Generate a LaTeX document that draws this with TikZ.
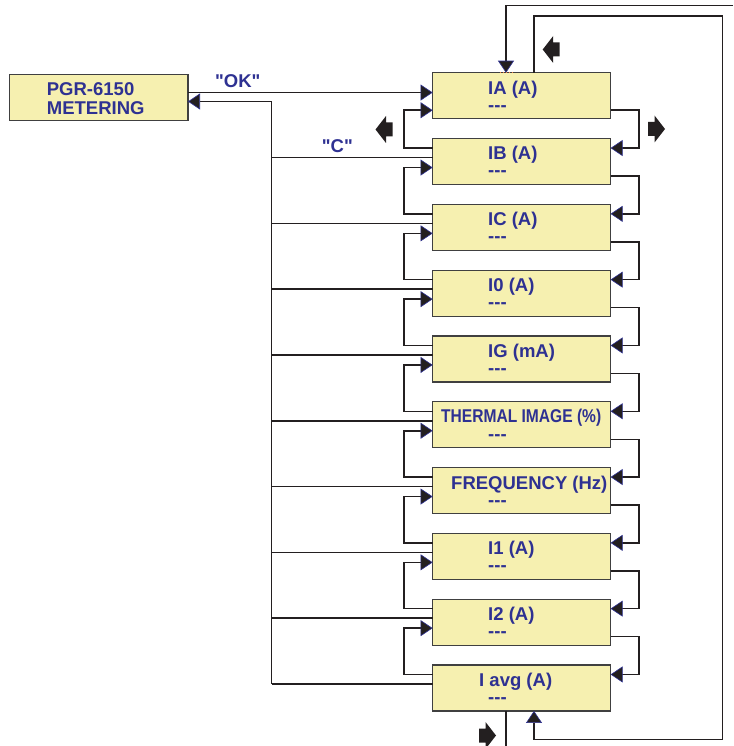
\documentclass[tikz,border=0pt]{standalone}
\usepackage{fontspec}
\setmainfont{Liberation Sans}[Ligatures=TeXOff]
\usetikzlibrary{arrows.meta,calc}
\definecolor{boxfill}{HTML}{F6F0B0}
\definecolor{navy}{HTML}{2E3192}
\definecolor{ink}{HTML}{231F20}
\definecolor{boxedge}{HTML}{404040}
\definecolor{markcol}{HTML}{F08040}
\begin{document}
\begin{tikzpicture}[x=1pt,y=-1pt,
  box/.style={draw=boxedge,fill=boxfill,line width=1.1pt,minimum width=178pt,minimum height=46pt,inner sep=0pt,outer sep=0pt},
  txt/.style={font=\bfseries\fontsize{18.5}{18.5}\selectfont,text=navy,inner sep=0pt,anchor=base west},
  wire/.style={draw=ink,line width=1.5pt},
  arr/.style={wire,-{Triangle[length=12pt,width=16pt,color=navy,fill=ink,line width=0.6pt]}},
  blockarrow/.pic={\fill[ink] (0,0) -- (10.5,-13.5) -- (10.5,-7) -- (17,-7) -- (17,7) -- (10.5,7) -- (10.5,13.5) -- cycle;}
]
\useasboundingbox (0,0) rectangle (733,746);

% main box
\node[box,minimum width=178.7pt] (pgr) at (98.65,97.3) {};
\node[txt] (pgrt1) at (46.7,96) {PGR-6150};
\node[txt] (pgrt2) at (46.7,114.3) {METERING};

% menu boxes
\foreach \i/\t in {0/72.5,1/138.3,2/204.1,3/269.9,4/335.7,5/401.5,6/467.3,7/533.1,8/598.9,9/664.7}{
  \node[box] (b\i) at (521.6,\t+23.25) {};
  \node[txt] (d\i) at (488,\t+38.7) {---};
}
\node[txt] (l0) at (488,72.5+21.7) {IA (A)};
\node[txt] (l1) at (488,138.3+21.7) {IB (A)};
\node[txt] (l2) at (488,204.1+21.7) {IC (A)};
\node[txt] (l3) at (488,269.9+21.7) {I0 (A)};
\node[txt] (l4) at (488,335.7+21.7) {IG (mA)};
\node[txt] (l5) at (441,401.5+21.2) {\scalebox{0.842}[1]{THERMAL IMAGE (\%)}};
\node[txt] (l6) at (451,467.3+21.7) {FREQUENCY (Hz)};
\node[txt] (l7) at (488,533.1+21.7) {I1 (A)};
\node[txt] (l8) at (488,598.9+21.7) {I2 (A)};
\node[txt] (l9) at (479,664.7+21.7) {I avg (A)};

% loops between consecutive boxes
\foreach \i/\j in {0/1,1/2,2/3,3/4,4/5,5/6,6/7,7/8,8/9}{
  \ifnum\i=0 \def\dy{37.5}\else\def\dy{29}\fi
  \draw[arr] ($(b\j.north west)+(0,9.5)$) -- ++(-28.5,0) |- ($(b\i.north west)+(0,\dy)$);
  \draw[arr] ($(b\i.north east)+(0,37.5)$) -- ++(28.5,0) |- ($(b\j.north east)+(0,9.5)$);
}

% trunk to PGR
\coordinate (trunktop) at (271.5,101.5);
\foreach \j in {1,...,9}{
  \coordinate (tr\j) at ($(b\j.north west)+(0,19)$);
  \draw[wire] (tr\j) -- (tr\j -| trunktop);
}
\draw[arr] (tr9 -| trunktop) -- (trunktop) -- (pgr.east |- trunktop);

% OK line
\coordinate (okend) at ($(b0.north west)+(0,19.8)$);
\draw[arr] (pgr.east |- okend) -- (okend);
\node[txt] (ok) at (215,87.3) {"OK"};
\node[txt] (c) at (321.7,152.7) {"C"};

% outer wrap
\coordinate (o1) at (733,5.7);
\coordinate (o2) at (506,5.7);
\coordinate (o3) at (506,746);
\draw[arr] (o1) -- (o2) -- (o2 |- b0.north);
\draw[wire] (b9.south -| o3) -- (o3);

% inner wrap
\coordinate (in1) at (534,16);
\coordinate (in2) at (722.7,16);
\coordinate (in3) at (722.7,739.3);
\coordinate (in4) at (534,739.3);
\draw[arr] (b0.north -| in1) -- (in1) -- (in2) -- (in3) -- (in4) -- (b9.south -| in4);

\draw[markcol,dotted,line width=1pt] (500,72.8) -- (513,72.8);

% block arrows
\pic at (542.7,49.5) {blockarrow};
\pic at (375.5,129.5) {blockarrow};
\pic[xscale=-1] at (665,129) {blockarrow};
\pic[xscale=-1] at (496,735.5) {blockarrow};
\end{tikzpicture}
\end{document}
